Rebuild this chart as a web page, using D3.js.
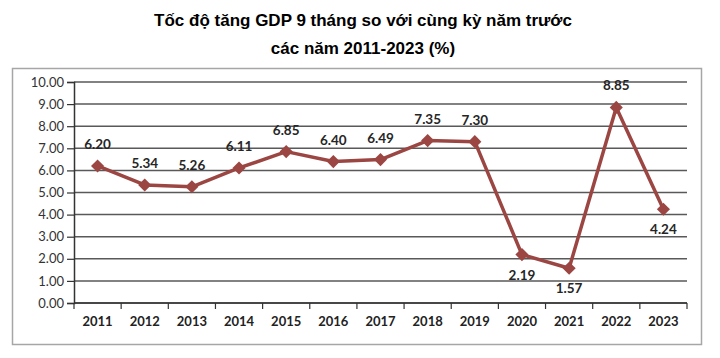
<!DOCTYPE html>
<html>
<head>
<meta charset="utf-8">
<script src="https://cdn.jsdelivr.net/npm/d3@7"></script>
<style>
  body { margin: 0; background: #fff; }
  svg { display: block; }
</style>
</head>
<body>
<div id="chart"></div>
<script>
// data
const years = ['2011', '2012', '2013', '2014', '2015', '2016', '2017', '2018', '2019', '2020', '2021', '2022', '2023'];
const growth = [6.20, 5.34, 5.26, 6.11, 6.85, 6.40, 6.49, 7.35, 7.30, 2.19, 1.57, 8.85, 4.24];
const labelBelow = ['2020', '2021', '2023'];
const yTicks = [0, 1, 2, 3, 4, 5, 6, 7, 8, 9, 10];
const titleLines = ['Tốc độ tăng GDP 9 tháng so với cùng kỳ năm trước', 'các năm 2011-2023 (%)'];

const width = 720, height = 358;
const margin = { left: 74, right: 33, top: 82, bottom: 55 };

let svg = d3.select('#chart').append('svg')
  .attr('width', width)
  .attr('height', height);

// title
svg.selectAll('text.title')
  .data(titleLines)
  .enter()
  .append('text')
  .attr('class', 'title')
  .attr('x', 363)
  .attr('y', (d, i) => 26 + i * 28)
  .attr('text-anchor', 'middle')
  .style('font-family', 'Liberation Sans, Arial, sans-serif')
  .style('font-weight', 'bold')
  .style('font-size', '17px')
  .text(d => d);

// chart frame
svg.append('rect')
  .attr('x', 12.5).attr('y', 68.5)
  .attr('width', 689).attr('height', 276)
  .attr('fill', 'none')
  .attr('stroke', '#a6a6a6')
  .attr('stroke-width', 1.5);

let x = d3.scaleBand()
  .domain(years)
  .range([margin.left, width - margin.right]);

let y = d3.scaleLinear()
  .domain([0, 10])
  .range([height - margin.bottom, margin.top]);

// grid lines
svg.append('g')
  .selectAll('line')
  .data(yTicks)
  .enter()
  .append('line')
  .attr('x1', margin.left)
  .attr('x2', width - margin.right)
  .attr('y1', d => y(d))
  .attr('y2', d => y(d))
  .attr('stroke', '#595959')
  .attr('stroke-width', 1.5);

// y axis
let yAxis = svg.append('g')
  .attr('transform', `translate(${margin.left},0)`)
  .call(d3.axisLeft(y).tickValues(yTicks).tickFormat(d3.format('.2f')).tickSize(7).tickPadding(3));
yAxis.select('.domain').attr('stroke', '#333').attr('stroke-width', 1.5);
yAxis.selectAll('.tick line').attr('stroke', '#333').attr('stroke-width', 1.2);
yAxis.selectAll('text')
  .style('font-family', 'Lato, Open Sans, sans-serif')
  .style('font-size', '13px')
  .attr('fill', '#333');

// x axis (ticks on band edges)
let xAxis = svg.append('g')
  .attr('transform', `translate(0,${y(0)})`);
xAxis.append('line')
  .attr('x1', margin.left).attr('x2', width - margin.right)
  .attr('stroke', '#333').attr('stroke-width', 1.5);
xAxis.selectAll('line.tk')
  .data(years.concat(['end']))
  .enter()
  .append('line')
  .attr('class', 'tk')
  .attr('x1', (d, i) => margin.left + i * x.step())
  .attr('x2', (d, i) => margin.left + i * x.step())
  .attr('y1', 0).attr('y2', 6)
  .attr('stroke', '#333').attr('stroke-width', 1.2);
xAxis.selectAll('text')
  .data(years)
  .enter()
  .append('text')
  .attr('x', d => x(d) + x.bandwidth() / 2)
  .attr('y', 23)
  .attr('text-anchor', 'middle')
  .style('font-family', 'Lato, Open Sans, sans-serif')
  .style('font-weight', 'bold')
  .style('font-size', '13px')
  .attr('fill', '#222')
  .text(d => d);

const cx = d => x(d) + x.bandwidth() / 2;
const pts = years.map((yr, i) => ({ yr: yr, v: growth[i] }));

// line
svg.append('path')
  .datum(pts)
  .attr('fill', 'none')
  .attr('stroke', '#9b4642')
  .attr('stroke-width', 3.5)
  .attr('stroke-linejoin', 'round')
  .attr('d', d3.line().x(d => cx(d.yr)).y(d => y(d.v)));

// diamond markers
svg.selectAll('path.mk')
  .data(pts)
  .enter()
  .append('path')
  .attr('class', 'mk')
  .attr('d', d3.symbol(d3.symbolDiamond2, 110)())
  .attr('transform', d => `translate(${cx(d.yr)},${y(d.v)})`)
  .attr('fill', '#9b4642');

// data labels
svg.selectAll('text.lbl')
  .data(pts)
  .enter()
  .append('text')
  .attr('class', 'lbl')
  .attr('x', d => cx(d.yr))
  .attr('y', d => labelBelow.includes(d.yr) ? y(d.v) + 25 : y(d.v) - 17)
  .attr('text-anchor', 'middle')
  .style('font-family', 'Lato, Open Sans, sans-serif')
  .style('font-weight', 'bold')
  .style('font-size', '13.5px')
  .attr('fill', '#262626')
  .text(d => d.v.toFixed(2));
</script>
</body>
</html>
